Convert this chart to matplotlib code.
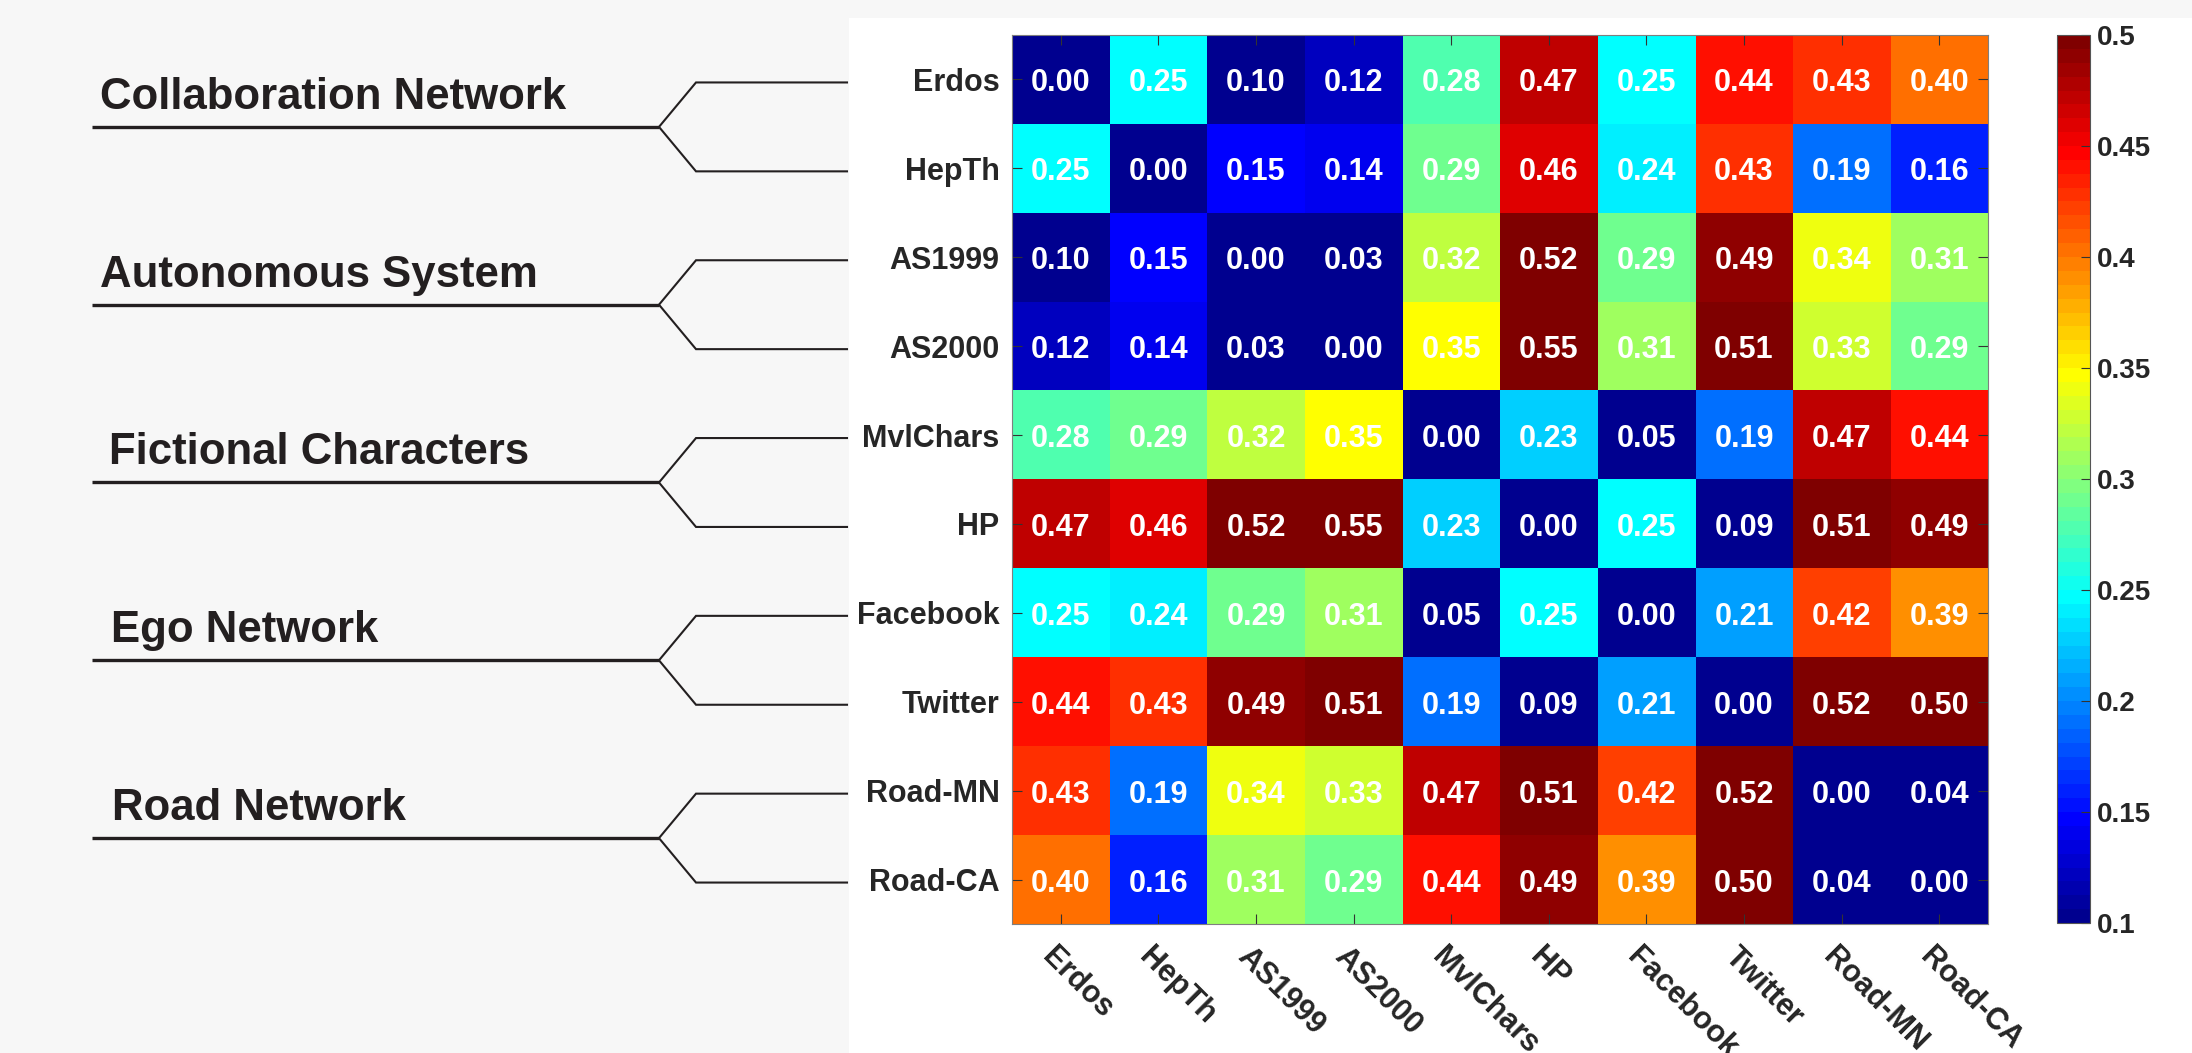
import numpy as np
import matplotlib
matplotlib.use("Agg")
import matplotlib.pyplot as plt
from matplotlib.colors import ListedColormap, Normalize
from matplotlib.patches import Rectangle
from matplotlib.transforms import offset_copy, blended_transform_factory

plt.rcParams["font.family"] = ["Liberation Sans", "DejaVu Sans"]

# ---- data ---------------------------------------------------------------
datasets = ["Erdos", "HepTh", "AS1999", "AS2000", "MvlChars",
            "HP", "Facebook", "Twitter", "Road-MN", "Road-CA"]

groups = ["Collaboration Network", "Autonomous System",
          "Fictional Characters", "Ego Network", "Road Network"]

row_erdos = [0.00, 0.25, 0.10, 0.12, 0.28, 0.47, 0.25, 0.44, 0.43, 0.40]
row_hepth = [0.25, 0.00, 0.15, 0.14, 0.29, 0.46, 0.24, 0.43, 0.19, 0.16]
row_as1999 = [0.10, 0.15, 0.00, 0.03, 0.32, 0.52, 0.29, 0.49, 0.34, 0.31]
row_as2000 = [0.12, 0.14, 0.03, 0.00, 0.35, 0.55, 0.31, 0.51, 0.33, 0.29]
row_mvlchars = [0.28, 0.29, 0.32, 0.35, 0.00, 0.23, 0.05, 0.19, 0.47, 0.44]
row_hp = [0.47, 0.46, 0.52, 0.55, 0.23, 0.00, 0.25, 0.09, 0.51, 0.49]
row_facebook = [0.25, 0.24, 0.29, 0.31, 0.05, 0.25, 0.00, 0.21, 0.42, 0.39]
row_twitter = [0.44, 0.43, 0.49, 0.51, 0.19, 0.09, 0.21, 0.00, 0.52, 0.50]
row_roadmn = [0.43, 0.19, 0.34, 0.33, 0.47, 0.51, 0.42, 0.52, 0.00, 0.04]
row_roadca = [0.40, 0.16, 0.31, 0.29, 0.44, 0.49, 0.39, 0.50, 0.04, 0.00]

cbar_ticks = [0.1, 0.15, 0.2, 0.25, 0.3, 0.35, 0.4, 0.45, 0.5]
cbar_labels = ["0.1", "0.15", "0.2", "0.25", "0.3", "0.35", "0.4", "0.45", "0.5"]
clim = (0.1, 0.5)

dist = np.array([row_erdos, row_hepth, row_as1999, row_as2000, row_mvlchars,
                 row_hp, row_facebook, row_twitter, row_roadmn, row_roadca])

# ---- layout (pixels) ----------------------------------------------------
W, H = 2192, 1053
DARK = "#262626"
LINE = "#231f20"
group_text_x = [100, 100, 109, 111, 112]


def jet64(m=64):
    """Classic 64-step jet table."""
    n = int(np.ceil(m / 4))
    u = np.concatenate([np.arange(1, n + 1) / n, np.ones(n - 1),
                        np.arange(n, 0, -1) / n])
    g = int(np.ceil(n / 2)) - (1 if m % 4 == 1 else 0) + np.arange(1, len(u) + 1)
    r = g + n
    b = g - n
    J = np.zeros((m, 3))
    k = r <= m
    J[r[k] - 1, 0] = u[k]
    k = (g <= m) & (g > 0)
    J[g[k] - 1, 1] = u[k]
    k = b > 0
    J[b[k] - 1, 2] = u[k]
    return ListedColormap(J)


cmap = jet64(64)

fig = plt.figure(figsize=(W / 100, H / 100), dpi=100, facecolor="#f7f7f7")

# white panel behind the heatmap
fig.patches.append(Rectangle((849 / W, 0), 1 - 849 / W, (H - 18) / H,
                             transform=fig.transFigure, facecolor="white",
                             edgecolor="none", zorder=-1))

top, bottom = 35, 924
ax = fig.add_axes([1012 / W, (H - bottom) / H, (1988 - 1012) / W, (bottom - top) / H])
im = ax.imshow(dist, cmap=cmap, norm=Normalize(*clim), aspect="auto",
               interpolation="nearest")

n = len(datasets)
ax.set_xticks(range(n))
ax.set_yticks(range(n))
ax.set_xticklabels([])
ax.set_yticklabels(datasets, fontsize=22, fontweight="bold", color=DARK)
ax.tick_params(direction="in", length=7.2, width=0.8, color="#333333",
               top=True, right=True, pad=9)
for sp in ax.spines.values():
    sp.set_edgecolor("#7f7f7f")
    sp.set_linewidth(0.8)

# cell values
val_tr = offset_copy(ax.transData, fig=fig, x=0, y=-12, units="dots")
for i in range(n):
    for j in range(n):
        ax.text(j, i, f"{dist[i, j]:.2f}", transform=val_tr, ha="center",
                va="baseline", fontsize=22, fontweight="bold", color="white")

# rotated column labels
xl_tr = offset_copy(blended_transform_factory(ax.transData, ax.transAxes),
                    fig=fig, x=-20, y=-34.5, units="dots")
for j, name in enumerate(datasets):
    ax.text(j, 0, name, transform=xl_tr, rotation=-45, rotation_mode="anchor",
            ha="left", va="baseline", fontsize=22, fontweight="bold",
            color=DARK, clip_on=False)

# colorbar
cax = fig.add_axes([2057 / W, (H - 923) / H, 33 / W, (923 - 35) / H])
cb = fig.colorbar(im, cax=cax, ticks=cbar_ticks)
cb.ax.set_yticklabels(cbar_labels)
cb.outline.set_edgecolor("#555555")
cb.outline.set_linewidth(0.8)
cax.tick_params(direction="in", length=6.5, width=0.8, color="#333333",
                labelsize=20, pad=5, labelcolor=DARK)
for t in cax.get_yticklabels():
    t.set_fontweight("bold")

# grouping brackets on the left (sit a few pixels below the row grid)
shift = 3
tax = fig.add_axes([0, (H - bottom - shift) / H, 1012 / W, (bottom - top) / H])
tax.set_xlim(0, 1012)
tax.set_ylim(n - 0.5, -0.5)
tax.axis("off")
tax.patch.set_alpha(0)
txt_tr = offset_copy(tax.transData, fig=fig, x=0, y=18, units="dots")
for k, gname in enumerate(groups):
    r0, r1 = 2 * k, 2 * k + 1
    mid = (r0 + r1) / 2
    tax.plot([92, 659], [mid, mid], color=LINE, lw=2.4, solid_capstyle="butt",
             clip_on=False)
    tax.plot([847, 696, 659, 696, 847], [r0, r0, mid, r1, r1], color=LINE,
             lw=1.5, solid_joinstyle="miter", clip_on=False)
    tax.text(group_text_x[k], mid, gname, transform=txt_tr, ha="left",
             va="baseline", fontsize=31.5, fontweight="bold", color=LINE)

fig.savefig("out.png", dpi=100, facecolor=fig.get_facecolor())
